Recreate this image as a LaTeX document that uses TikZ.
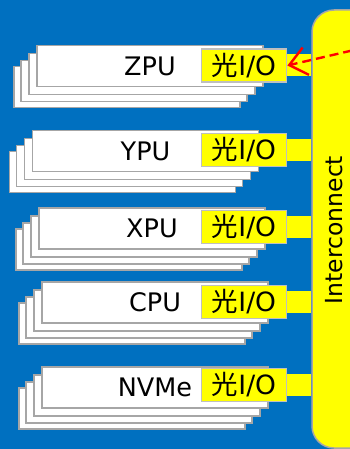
\documentclass[tikz,border=0pt]{standalone}
\usepackage{fontspec}
\setmainfont{DejaVu Sans}
\newfontfamily\jpfont{Noto Sans CJK JP}
\usetikzlibrary{arrows.meta,positioning}
\definecolor{bgblue}{HTML}{0070C0}
\definecolor{ioyellow}{HTML}{FFFF00}
\definecolor{cardgray}{HTML}{A6A6A6}
\definecolor{iogray}{HTML}{BFBFBF}
\definecolor{arrred}{HTML}{FF0000}

\begin{document}
\begin{tikzpicture}[x=1pt,y=-1pt,
        card/.style={rectangle,draw=cardgray,fill=white,line width=1.2pt,
                     minimum width=226pt,minimum height=41pt,inner sep=0pt,
                     font=\fontsize{25.5}{30}\selectfont},
        io/.style={rectangle,draw=iogray,fill=ioyellow,line width=1.8pt,
                   minimum width=85pt,minimum height=33pt,inner sep=0pt,
                   font=\fontsize{26.5}{30}\selectfont},
        bus/.style={rectangle,rounded corners=22pt,draw=cardgray,fill=ioyellow,
                    line width=1.5pt,minimum width=70pt,minimum height=438pt},
        link/.style={ioyellow,line width=22pt},
        dasharr/.style={-{Straight Barb[length=17pt,width=28pt,line width=2.4pt]},arrred,
                        line width=2.4pt,dash pattern=on 9pt off 5pt}]
  \fill[bgblue] (0,0) rectangle (350,449);
  \useasboundingbox (0,0) rectangle (350,449);
  % interconnect bar
  \node[bus] (bus) at (347,229) {};
  \node[rotate=90,font=\fontsize{23.5}{28}\selectfont] (buslbl) at (334,230) {Interconnect};
  % card stacks with optical I/O
  \foreach \nm/\cx/\cy/\iy in {ZPU/150/66/65.5,YPU/145.5/151/150,XPU/152/228.5/227,
                               CPU/155/302.5/302,NVMe/155/387.5/385}{
    \foreach \dx/\dy [count=\k] in {-23/21,-16/15,-8/8}
      \node[card] (\nm-\k) at (\cx+\dx,\cy+\dy) {};
    \node[card] (\nm) at (\cx,\cy) {\nm};
    \node[io] (io-\nm) at (244,\iy) {{\jpfont 光}I/O};
    \draw[link] (io-\nm.east) -- (io-\nm.east -| bus.west);
  }
  \coordinate (src) at (352,50.5);
  \draw[dasharr] (src) -- (io-ZPU.east);
\end{tikzpicture}
\end{document}
